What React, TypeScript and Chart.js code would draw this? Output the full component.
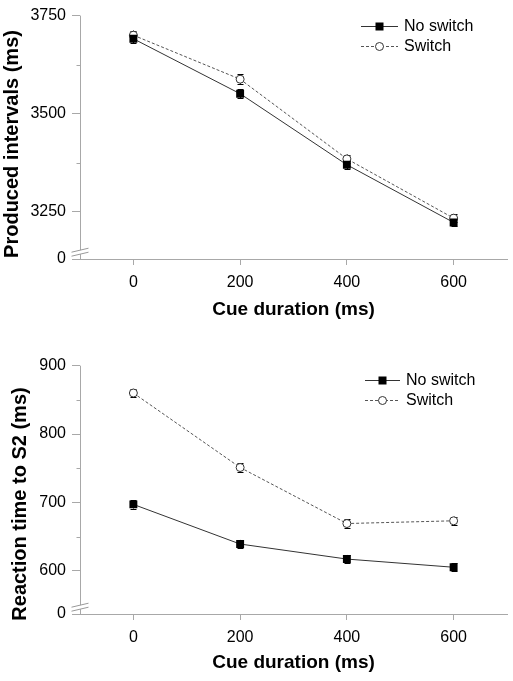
import React, { useEffect, useRef } from 'react';
import { Chart, registerables } from 'chart.js';

Chart.register(...registerables);

// ---------- data ----------
const cueDurations = [0, 200, 400, 600];
const xTickValues = [0, 200, 400, 600];
const seriesLabels = ['No switch', 'Switch'];
const breakLabel = '0';

const producedNoSwitch = [3691, 3551, 3370, 3223];
const producedSwitch = [3700, 3588, 3385, 3234];
const producedNoSwitchErr = [12, 12, 11, 10];
const producedSwitchErr = [12, 12, 11, 10];
const producedMajorTicks = [3250, 3500, 3750];
const producedMinorTicks = [3375, 3625];

const rtNoSwitch = [697, 639, 617, 605];
const rtSwitch = [860, 751, 669, 673];
const rtNoSwitchErr = [6, 6, 6, 6];
const rtSwitchErr = [6, 6, 6, 6];
const rtMajorTicks = [600, 700, 800, 900];
const rtMinorTicks = [650, 750, 850];

const FONT = "'Liberation Sans', Arial, Helvetica, sans-serif";
const AXIS = '#a8a8a8';

type PanelDef = {
  noSwitch: number[];
  sw: number[];
  noSwitchErr: number[];
  swErr: number[];
  yMin: number;
  yMax: number;
  major: number[];
  minor: number[];
  yTitle: string;
  titleX: number;
  titleY: number;
  legendX: number;
  legendLen: number;
  legendTextX: number;
  legendY: number;
  legendDy: number;
  height: number;
  padTop: number;
  padBottom: number;
  xAxisHeight: number;
};

const panels: PanelDef[] = [
  {
    noSwitch: producedNoSwitch,
    sw: producedSwitch,
    noSwitchErr: producedNoSwitchErr,
    swErr: producedSwitchErr,
    yMin: 3130,
    yMax: 3750,
    major: producedMajorTicks,
    minor: producedMinorTicks,
    yTitle: 'Produced intervals (ms)',
    titleX: 18,
    titleY: 144,
    legendX: 361,
    legendLen: 37,
    legendTextX: 404,
    legendY: 26,
    legendDy: 19.5,
    height: 335,
    padTop: 11,
    padBottom: 13.6,
    xAxisHeight: 62.4,
  },
  {
    noSwitch: rtNoSwitch,
    sw: rtSwitch,
    noSwitchErr: rtNoSwitchErr,
    swErr: rtSwitchErr,
    yMin: 536.6,
    yMax: 900,
    major: rtMajorTicks,
    minor: rtMinorTicks,
    yTitle: 'Reaction time to S2 (ms)',
    titleX: 26,
    titleY: 169,
    legendX: 365,
    legendLen: 35,
    legendTextX: 406,
    legendY: 45,
    legendDy: 20,
    height: 346,
    padTop: 30.7,
    padBottom: 7,
    xAxisHeight: 60,
  },
];

function makePlugin(p: PanelDef) {
  const drawMarker = (ctx: CanvasRenderingContext2D, kind: number, x: number, y: number) => {
    ctx.save();
    ctx.setLineDash([]);
    if (kind === 0) {
      ctx.fillStyle = '#000';
      ctx.fillRect(x - 4, y - 4, 8, 8);
    } else {
      ctx.beginPath();
      ctx.arc(x, y, 4, 0, Math.PI * 2);
      ctx.fillStyle = '#fff';
      ctx.fill();
      ctx.lineWidth = 1;
      ctx.strokeStyle = '#333';
      ctx.stroke();
    }
    ctx.restore();
  };
  return {
    id: 'decor',
    beforeDatasetsDraw(chart: any) {
      const ctx: CanvasRenderingContext2D = chart.ctx;
      const { left, top, bottom } = chart.chartArea;
      const yScale = chart.scales.y;
      const x0 = Math.round(left) + 0.5;
      const B = Math.round(bottom) + 0.5;
      ctx.save();
      ctx.strokeStyle = AXIS;
      ctx.lineWidth = 1;
      // y axis with break
      ctx.beginPath();
      ctx.moveTo(x0, top);
      ctx.lineTo(x0, B - 9.3);
      ctx.moveTo(x0, B - 5.3);
      ctx.lineTo(x0, B);
      // x axis stub to the left
      ctx.moveTo(x0 - 8, B);
      ctx.lineTo(x0, B);
      ctx.stroke();
      // break marks
      ctx.strokeStyle = '#999';
      ctx.beginPath();
      ctx.moveTo(x0 - 9, B - 7.3);
      ctx.lineTo(x0 + 8, B - 11.3);
      ctx.moveTo(x0 - 9, B - 3.3);
      ctx.lineTo(x0 + 8, B - 7.3);
      ctx.stroke();
      // minor ticks
      ctx.strokeStyle = AXIS;
      ctx.beginPath();
      p.minor.forEach((v) => {
        const y = Math.round(yScale.getPixelForValue(v)) + 0.5;
        ctx.moveTo(x0 - 4, y);
        ctx.lineTo(x0, y);
      });
      ctx.stroke();
      // error bars
      const errs = [p.noSwitchErr, p.swErr];
      const vals = [p.noSwitch, p.sw];
      ctx.strokeStyle = '#000';
      ctx.beginPath();
      [0, 1].forEach((di) => {
        const meta = chart.getDatasetMeta(di);
        meta.data.forEach((pt: any, j: number) => {
          const x = Math.round(pt.x) + 0.5;
          const y1 = yScale.getPixelForValue(vals[di][j] + errs[di][j]);
          const y2 = yScale.getPixelForValue(vals[di][j] - errs[di][j]);
          ctx.moveTo(x, y1);
          ctx.lineTo(x, y2);
          ctx.moveTo(x - 3, Math.round(y1) + 0.5);
          ctx.lineTo(x + 3, Math.round(y1) + 0.5);
          ctx.moveTo(x - 3, Math.round(y2) + 0.5);
          ctx.lineTo(x + 3, Math.round(y2) + 0.5);
        });
      });
      ctx.stroke();
      ctx.restore();
    },
    afterDraw(chart: any) {
      const ctx: CanvasRenderingContext2D = chart.ctx;
      ctx.save();
      // legend
      seriesLabels.forEach((label, i) => {
        const y = Math.round(p.legendY + i * p.legendDy) + 0.5;
        ctx.strokeStyle = i === 0 ? '#333' : '#555';
        ctx.lineWidth = 1;
        ctx.setLineDash(i === 0 ? [] : [3, 2]);
        ctx.beginPath();
        ctx.moveTo(p.legendX, y);
        ctx.lineTo(p.legendX + p.legendLen, y);
        ctx.stroke();
        ctx.setLineDash([]);
        drawMarker(ctx, i, p.legendX + p.legendLen / 2, y);
        ctx.fillStyle = '#000';
        ctx.font = `16px ${FONT}`;
        ctx.textAlign = 'left';
        ctx.textBaseline = 'middle';
        ctx.fillText(label, p.legendTextX, y);
      });
      // y title
      ctx.translate(p.titleX, p.titleY);
      ctx.rotate(-Math.PI / 2);
      ctx.font = `bold 20px ${FONT}`;
      ctx.fillStyle = '#000';
      ctx.textAlign = 'center';
      ctx.textBaseline = 'alphabetic';
      ctx.fillText(p.yTitle, 0, 0);
      ctx.restore();
    },
  };
}

function makeConfig(p: PanelDef): any {
  const yTicks = [p.yMin, ...p.minor, ...p.major].sort((a, b) => a - b);
  const tickFont = { family: FONT, size: 16 };
  return {
    type: 'line',
    data: {
      datasets: [
        {
          label: seriesLabels[0],
          data: cueDurations.map((x, i) => ({ x, y: p.noSwitch[i] })),
          borderColor: '#333',
          borderWidth: 1,
          pointStyle: 'rect',
          pointRadius: 5.6,
          pointBackgroundColor: '#000',
          pointBorderColor: '#000',
          pointBorderWidth: 0,
          fill: false,
          tension: 0,
        },
        {
          label: seriesLabels[1],
          data: cueDurations.map((x, i) => ({ x, y: p.sw[i] })),
          borderColor: '#555',
          borderWidth: 1,
          borderDash: [3, 2],
          pointStyle: 'circle',
          pointRadius: 4,
          pointBackgroundColor: '#fff',
          pointBorderColor: '#333',
          pointBorderWidth: 1,
          fill: false,
          tension: 0,
        },
      ],
    },
    options: {
      responsive: false,
      animation: false,
      events: [],
      layout: { padding: { top: p.padTop, bottom: p.padBottom, left: 0, right: 6 } },
      plugins: { legend: { display: false }, tooltip: { enabled: false } },
      scales: {
        x: {
          type: 'linear',
          min: -100,
          max: 700,
          afterBuildTicks: (s: any) => {
            s.ticks = xTickValues.map((v) => ({ value: v }));
          },
          afterFit: (s: any) => {
            s.height = p.xAxisHeight;
          },
          grid: { drawOnChartArea: false, tickLength: 6, tickColor: AXIS },
          border: { display: true, color: AXIS, width: 1 },
          ticks: { padding: 8.4, font: tickFont, color: '#000', maxRotation: 0, autoSkip: false },
          title: {
            display: true,
            text: 'Cue duration (ms)',
            font: { family: FONT, size: 19, weight: 'bold' },
            color: '#000',
            padding: 0,
          },
        },
        y: {
          type: 'linear',
          min: p.yMin,
          max: p.yMax,
          afterBuildTicks: (s: any) => {
            s.ticks = yTicks.map((v) => ({ value: v }));
          },
          afterFit: (s: any) => {
            s.width = 80;
          },
          grid: {
            drawOnChartArea: false,
            tickLength: 8,
            tickColor: (c: any) =>
              c.tick && p.minor.includes(c.tick.value) ? 'rgba(0,0,0,0)' : AXIS,
          },
          border: { display: false },
          ticks: {
            padding: 6,
            font: tickFont,
            color: '#000',
            autoSkip: false,
            callback: (v: number) =>
              v === p.yMin ? breakLabel : p.minor.includes(v) ? '' : String(v),
          },
        },
      },
    },
    plugins: [makePlugin(p)],
  };
}

function Panel({ p }: { p: PanelDef }) {
  const ref = useRef<HTMLCanvasElement>(null);
  useEffect(() => {
    const chart = new Chart(ref.current as HTMLCanvasElement, makeConfig(p));
    return () => chart.destroy();
  }, [p]);
  return (
    <canvas
      ref={ref}
      width={513}
      height={p.height}
      style={{ display: 'block', width: 513, height: p.height }}
    />
  );
}

export default function App() {
  return (
    <div
      style={{
        position: 'absolute',
        left: 0,
        top: 0,
        width: 513,
        height: 681,
        background: '#fff',
        overflow: 'hidden',
      }}
    >
      {panels.map((p, i) => (
        <Panel key={i} p={p} />
      ))}
    </div>
  );
}
